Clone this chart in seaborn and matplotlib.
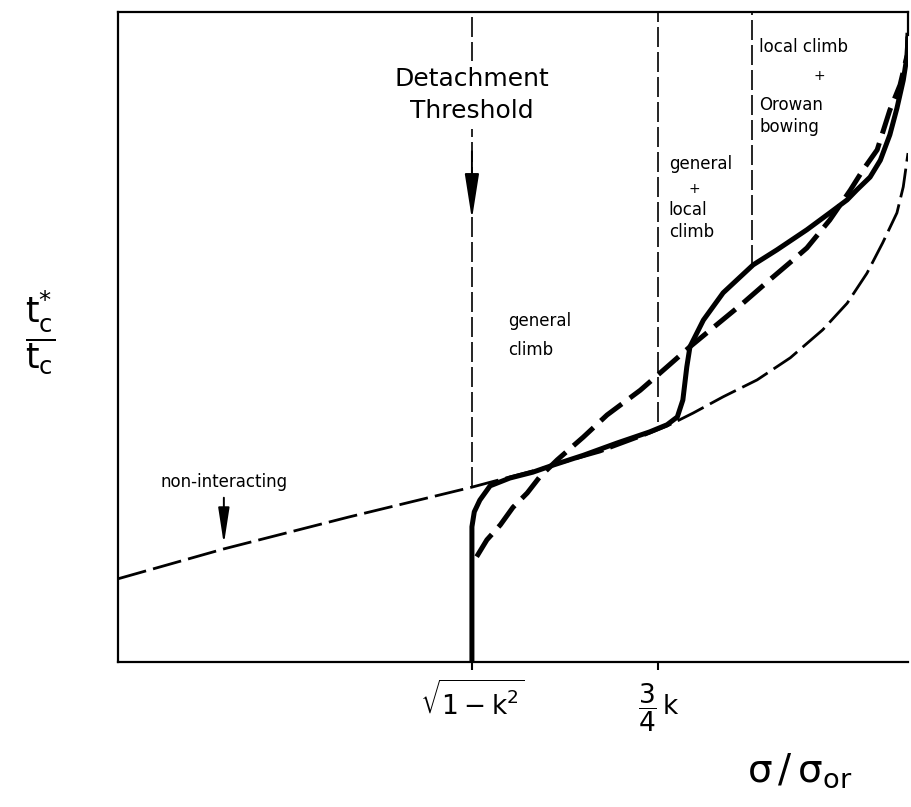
import numpy as np
import pandas as pd
import matplotlib
matplotlib.use("Agg")
import matplotlib.pyplot as plt
import seaborn as sns

# ---- data (normalised sigma/sigma_or on x, t_c*/t_c on y; arbitrary units) ----
noninter_x = [0.000, 0.134, 0.292, 0.448, 0.534, 0.610, 0.661, 0.695, 0.728, 0.766,
              0.809, 0.851, 0.892, 0.923, 0.948, 0.968, 0.986, 0.994, 1.000]
noninter_y = [0.128, 0.174, 0.223, 0.269, 0.297, 0.323, 0.346, 0.363, 0.383, 0.408,
              0.434, 0.468, 0.511, 0.552, 0.598, 0.645, 0.691, 0.731, 0.783]

solid_x = [0.448, 0.448, 0.451, 0.458, 0.471, 0.496, 0.525, 0.551, 0.589, 0.632,
           0.673, 0.695, 0.708, 0.715, 0.720, 0.724, 0.741, 0.766, 0.804, 0.834,
           0.872, 0.901, 0.923, 0.935, 0.952, 0.965, 0.977, 0.986, 0.994, 0.999, 1.000]
solid_y = [0.000, 0.208, 0.231, 0.249, 0.271, 0.283, 0.292, 0.303, 0.318, 0.337,
           0.354, 0.365, 0.377, 0.403, 0.454, 0.485, 0.526, 0.568, 0.611, 0.634,
           0.665, 0.691, 0.711, 0.726, 0.746, 0.772, 0.811, 0.852, 0.895, 0.934, 0.968]

dashed_x = [0.454, 0.467, 0.484, 0.500, 0.518, 0.534, 0.556, 0.589, 0.619, 0.661,
            0.695, 0.724, 0.762, 0.791, 0.825, 0.854, 0.872, 0.901, 0.927, 0.943,
            0.961, 0.977, 0.990, 0.999, 1.000]
dashed_y = [0.162, 0.188, 0.211, 0.238, 0.260, 0.285, 0.311, 0.346, 0.380, 0.418,
            0.454, 0.485, 0.523, 0.552, 0.588, 0.618, 0.637, 0.680, 0.726, 0.757,
            0.788, 0.849, 0.888, 0.934, 0.965]

# regime boundaries (x) and where they stop (y)
bound_x = [0.448, 0.684, 0.803]
bound_ymin = [0.269, 0.369, 0.611]

tick_pos = [0.448, 0.684]
tick_labels = [r"$\sqrt{1-k^{2}}$", r"$\dfrac{3}{4}\,k$"]

sns.set_theme(style="white")
plt.rcParams["font.family"] = ["DejaVu Sans"]
plt.rcParams["mathtext.fontset"] = "dejavusans"
plt.rcParams["mathtext.default"] = "regular"
plt.rcParams["text.color"] = "black"
plt.rcParams["xtick.color"] = "black"
plt.rcParams["xtick.labelcolor"] = "black"

fig = plt.figure(figsize=(9.12, 8.07), dpi=100)
ax = fig.add_axes([118 / 912, 145 / 807, 790 / 912, 650 / 807])

df_ni = pd.DataFrame({"x": noninter_x, "y": noninter_y})
df_so = pd.DataFrame({"x": solid_x, "y": solid_y})
df_da = pd.DataFrame({"x": dashed_x, "y": dashed_y})

# regime boundary lines
ax.vlines(bound_x, bound_ymin, [1, 1, 1], colors="black", linewidth=1.2,
          linestyles=(0, (12, 3)), zorder=1)

sns.lineplot(data=df_ni, x="x", y="y", sort=False, estimator=None, ax=ax,
             color="black", linewidth=2.0, zorder=2)
ax.lines[-1].set_dashes((10.5, 2.6))
sns.lineplot(data=df_da, x="x", y="y", sort=False, estimator=None, ax=ax,
             color="black", linewidth=3.6, zorder=3)
ax.lines[-1].set_dashes((5.4, 2.0))
sns.lineplot(data=df_so, x="x", y="y", sort=False, estimator=None, ax=ax,
             color="black", linewidth=3.6, zorder=4)
ax.lines[-1].set_solid_capstyle("butt")
ax.lines[-1].set_solid_joinstyle("round")

ax.set_xlim(0, 1)
ax.set_ylim(0, 1)

# spines
for s in ["left", "top", "bottom", "right"]:
    ax.spines[s].set_color("black")
    ax.spines[s].set_linewidth(1.6)
ax.spines["right"].set_bounds(0.965, 1.0)

ax.set_yticks([])
ax.set_xticks(tick_pos)
ax.set_xticklabels(tick_labels, fontsize=19)
ax.tick_params(axis="x", direction="out", length=6, width=1.5, colors="black",
               pad=8, bottom=True)
ax.set_xlabel("")
ax.set_ylabel("")

# annotations
ax.text(0.448, 0.872, "Detachment\nThreshold", ha="center", va="center",
        fontsize=18, linespacing=1.45, zorder=5,
        bbox=dict(facecolor="white", edgecolor="none", pad=4))
ax.annotate("", xy=(0.448, 0.677), xytext=(0.448, 0.790),
            arrowprops=dict(arrowstyle="-|>,head_length=1.4,head_width=0.22",
                            color="black", lw=1.4, mutation_scale=20), zorder=5)

ax.text(0.134, 0.277, "non-interacting", ha="center", va="center", fontsize=12)
ax.annotate("", xy=(0.134, 0.177), xytext=(0.134, 0.257),
            arrowprops=dict(arrowstyle="-|>,head_length=1.1,head_width=0.17",
                            color="black", lw=1.4, mutation_scale=20))

ax.text(0.494, 0.502, "general\nclimb", ha="left", va="center", fontsize=12,
        linespacing=1.75)
ax.text(0.697, 0.766, "general", ha="left", va="center", fontsize=12)
ax.text(0.730, 0.728, "+", ha="center", va="center", fontsize=10)
ax.text(0.697, 0.678, "local\nclimb", ha="left", va="center", fontsize=12,
        linespacing=1.3)
ax.text(0.812, 0.946, "local climb", ha="left", va="center", fontsize=12)
ax.text(0.888, 0.902, "+", ha="center", va="center", fontsize=10)
ax.text(0.812, 0.840, "Orowan\nbowing", ha="left", va="center", fontsize=12,
        linespacing=1.25)

# axis titles
ax.text(0.863, -0.168, r"$σ\,/\,σ_{or}$", ha="center",
        va="center", fontsize=28, transform=ax.transAxes)
ax.text(-0.099, 0.506, r"$\dfrac{t_c^{*}}{t_c}$", ha="center", va="center",
        fontsize=25, transform=ax.transAxes)

fig.savefig("out.png", dpi=100, facecolor="white")
